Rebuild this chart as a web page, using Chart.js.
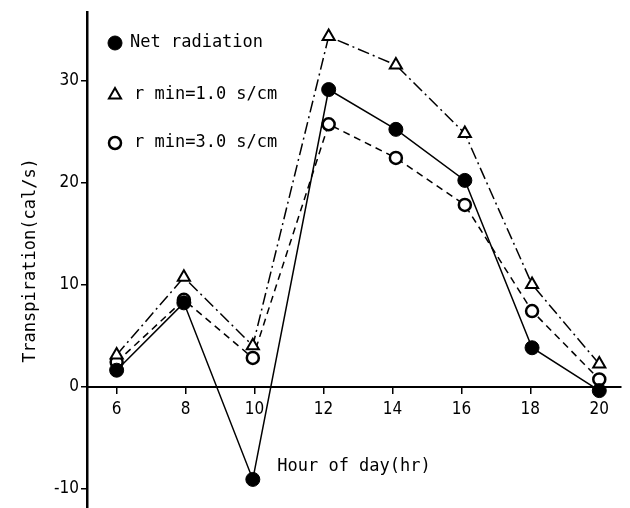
<!DOCTYPE html>
<html>
<head>
<meta charset="utf-8">
<script src="https://cdn.jsdelivr.net/npm/chart.js@4"></script>
<style>
  html, body { margin: 0; padding: 0; background: #fff; overflow: hidden; height: 508px; }
  /* a little taller than the window: the bottom strip Chart.js keeps free falls off-screen,
     so the y axis runs to the lower edge as in the figure */
  #wrap { width: 630px; height: 518px; }
</style>
</head>
<body>
<div id="wrap"><canvas id="transp"></canvas></div>
<script>
// values
var hours = [6, 7.95, 9.95, 12.15, 14.1, 16.1, 18.05, 20];
var netRadiation = [1.6, 8.2, -9.1, 29.1, 25.2, 20.2, 3.8, -0.4];
var rmin1 = [3.1, 10.7, 4.0, 34.3, 31.5, 24.8, 10.0, 2.2];
var rmin3 = [2.4, 8.5, 2.8, 25.7, 22.4, 17.8, 7.4, 0.7];
var xTicks = [6, 8, 10, 12, 14, 16, 18, 20];
var yTicks = [-10, 0, 10, 20, 30];
var seriesNames = ["Net radiation", "r min=1.0 s/cm", "r min=3.0 s/cm"];

function pts(ys) {
  return ys.map(function(v, i){ return {x: hours[i], y: v}; });
}

var monoFont = "'DejaVu Sans Mono', monospace";
var tickFont = "'DejaVu Sans Condensed', 'DejaVu Sans', sans-serif";

// legend drawn inside the plot, top-left
var insideLegend = {
  id: 'insideLegend',
  afterDraw: function(chart) {
    var ctx = chart.ctx;
    var area = chart.chartArea;
    var rows = [43, 95, 143];
    var gaps = [15, 19, 19];
    ctx.save();
    chart.data.datasets.forEach(function(ds, i) {
      var y = rows[i];
      var x = area.left + 28;
      ctx.lineWidth = ds.pointBorderWidth;
      ctx.strokeStyle = '#000';
      ctx.fillStyle = ds.pointBackgroundColor;
      Chart.helpers.drawPoint(ctx, {
        pointStyle: ds.pointStyle, radius: ds.pointRadius, borderWidth: ds.pointBorderWidth
      }, x, y, 0);
      ctx.fillStyle = '#000';
      ctx.font = '17px ' + monoFont;
      ctx.textBaseline = 'middle';
      ctx.textAlign = 'left';
      ctx.fillText(ds.label, x + gaps[i], y);
    });
    ctx.restore();
  }
};

new Chart(document.getElementById('transp'), {
  type: 'line',
  data: {
    datasets: [{
      label: seriesNames[0],
      data: pts(netRadiation),
      borderColor: '#000',
      borderWidth: 1.5,
      pointStyle: 'circle',
      pointRadius: 7,
      pointBorderWidth: 1,
      pointBackgroundColor: '#000',
      pointBorderColor: '#000'
    }, {
      label: seriesNames[1],
      data: pts(rmin1),
      borderColor: '#000',
      borderWidth: 1.5,
      borderDash: [12, 4, 2, 4],
      pointStyle: 'triangle',
      pointRadius: 7,
      pointBorderWidth: 2,
      pointBackgroundColor: '#fff',
      pointBorderColor: '#000'
    }, {
      label: seriesNames[2],
      data: pts(rmin3),
      borderColor: '#000',
      borderWidth: 1.5,
      borderDash: [7, 5],
      pointStyle: 'circle',
      pointRadius: 6,
      pointBorderWidth: 2.5,
      pointBackgroundColor: '#fff',
      pointBorderColor: '#000'
    }]
  },
  options: {
    responsive: true,
    maintainAspectRatio: false,
    animation: false,
    layout: { padding: { top: 12, right: 5, bottom: 0, left: 0 } },
    plugins: {
      legend: { display: false },
      tooltip: { enabled: false }
    },
    scales: {
      x: {
        type: 'linear',
        position: { y: 0 },
        min: 5.14,
        max: 20.63,
        afterBuildTicks: function(scale) {
          scale.ticks = xTicks.map(function(v){ return {value: v}; });
        },
        grid: { drawOnChartArea: false, drawTicks: true, tickLength: 6, color: '#000', lineWidth: 1.5 },
        border: { display: true, color: '#000', width: 2 },
        ticks: { color: '#000', font: { family: tickFont, size: 17 }, padding: 7, maxRotation: 0 },
        title: {
          display: true,
          text: 'Hour of day(hr)',
          color: '#000',
          font: { family: monoFont, size: 17 },
          padding: { top: 29, bottom: 0 }
        }
      },
      y: {
        type: 'linear',
        min: -12,
        max: 36.7,
        afterBuildTicks: function(scale) {
          scale.ticks = yTicks.map(function(v){ return {value: v}; });
        },
        afterFit: function(scale) {
          scale.width = 87;
          scale.paddingTop = 0;
          scale.paddingBottom = 0;
        },
        grid: { drawOnChartArea: false, drawTicks: true, tickLength: 6, color: '#000', lineWidth: 1.5 },
        border: { display: true, color: '#000', width: 2.5 },
        ticks: { color: '#000', font: { family: tickFont, size: 17 }, padding: 2 },
        title: {
          display: true,
          text: 'Transpiration(cal/s)',
          color: '#000',
          font: { family: monoFont, size: 17 },
          padding: { top: 20, bottom: 0 }
        }
      }
    }
  },
  plugins: [insideLegend]
});
</script>
</body>
</html>
